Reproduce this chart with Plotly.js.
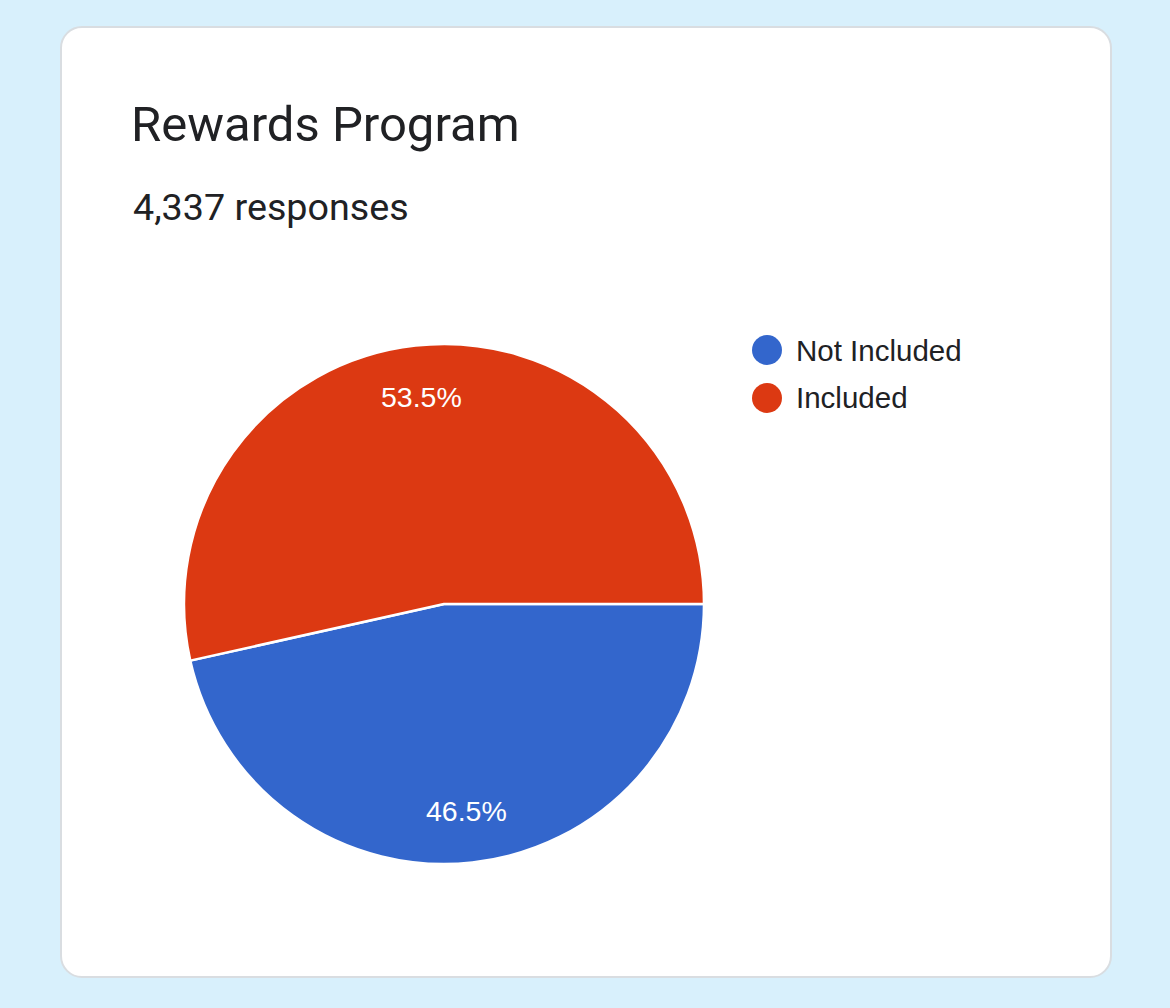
<!DOCTYPE html>
<html>
<head>
<meta charset="utf-8">
<script src="https://cdn.plot.ly/plotly-3.0.1.min.js"></script>
<style>
  html, body { margin: 0; padding: 0; background: #d8f0fc; }
  #wrap { position: relative; width: 1170px; height: 1008px; overflow: hidden; }
  #card { position: absolute; left: 60px; top: 26px; width: 1048px; height: 948px;
          background: #ffffff; border: 2px solid #d9dde1; border-radius: 22px; }
  #chart { position: absolute; left: 0; top: 0; width: 1170px; height: 1008px; }
</style>
</head>
<body>
<div id="wrap">
  <div id="card"></div>
  <div id="chart"></div>
</div>
<script>
const titleText = 'Rewards Program';
const subtitleText = '4,337 responses';
const categories = ['Not Included', 'Included'];
const responses = [2017, 2320];
const colors = ['#3366cc', '#dc3912'];

const W = 1170, H = 1008;
const px = v => v / W;
const py = v => 1 - v / H;

// pie geometry (pixels)
const pieLeft = 184, pieRight = 704, pieTop = 344, pieBottom = 864;
const cx = (pieLeft + pieRight) / 2, cy = (pieTop + pieBottom) / 2;
const R = (pieRight - pieLeft) / 2;
const labelRadius = 0.8;

const pie = {
  type: 'pie',
  labels: categories,
  values: responses,
  sort: false,
  direction: 'clockwise',
  rotation: 90,
  marker: { colors: colors, line: { color: '#ffffff', width: 2.5 } },
  textinfo: 'none',
  hoverinfo: 'label+value+percent',
  showlegend: false,
  domain: { x: [px(pieLeft), px(pieRight)], y: [py(pieBottom), py(pieTop)] }
};

const shapes = [];
const annotations = [
  { text: subtitleText, xref: 'paper', yref: 'paper', x: px(131), y: py(207),
    xanchor: 'left', yanchor: 'middle', showarrow: false,
    font: { family: 'Roboto, sans-serif', size: 37.7, color: '#202124' } }
];

// percentage labels placed along each slice bisector (derived from the values)
const total = responses.reduce((a, b) => a + b, 0);
let cum = 0;
responses.forEach((v, i) => {
  const mid = (cum + v / 2) / total;
  cum += v;
  const th = mid * 2 * Math.PI; // clockwise from 3 o'clock
  const lx = cx + labelRadius * R * Math.cos(th);
  const ly = cy + labelRadius * R * Math.sin(th);
  annotations.push({ text: (v / total * 100).toFixed(1) + '%', xref: 'paper', yref: 'paper',
    x: px(lx), y: py(ly), xanchor: 'center', yanchor: 'middle', showarrow: false,
    font: { family: 'Liberation Sans, Arial, sans-serif', size: 28.5, color: '#ffffff' } });
});

categories.forEach((c, i) => {
  const ly = py(350 + i * 48);
  shapes.push({ type: 'circle', xref: 'paper', yref: 'paper',
    xsizemode: 'pixel', ysizemode: 'pixel', xanchor: px(767), yanchor: ly,
    x0: -15, x1: 15, y0: -15, y1: 15,
    fillcolor: colors[i], line: { width: 0 } });
  annotations.push({ text: c, xref: 'paper', yref: 'paper', x: px(794), y: ly,
    xanchor: 'left', yanchor: 'middle', showarrow: false,
    font: { family: 'Liberation Sans, Arial, sans-serif', size: 29.5, color: '#202124' } });
});

const layout = {
  width: W, height: H,
  margin: { l: 0, r: 0, t: 0, b: 0 },
  paper_bgcolor: 'rgba(0,0,0,0)',
  plot_bgcolor: 'rgba(0,0,0,0)',
  title: { text: titleText, x: px(131), xref: 'paper', xanchor: 'left',
           y: py(124), yref: 'paper', yanchor: 'middle',
           font: { family: 'Roboto, sans-serif', size: 49, color: '#202124' } },
  shapes: shapes,
  annotations: annotations,
  showlegend: false
};

Plotly.newPlot('chart', [pie], layout, { displayModeBar: false, responsive: false });
</script>
</body>
</html>
